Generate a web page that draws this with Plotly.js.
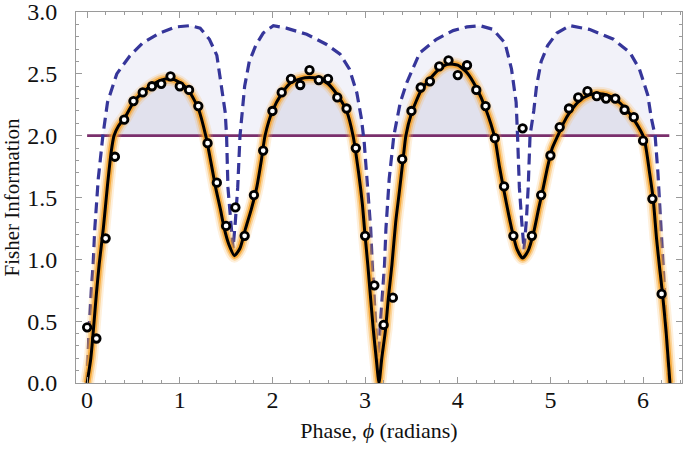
<!DOCTYPE html>
<html>
<head>
<meta charset="utf-8">
<script src="https://cdn.plot.ly/plotly-3.0.1.min.js"></script>
<style>
html,body{margin:0;padding:0;background:#fff;}
#chart{width:685px;height:450px;}
</style>
</head>
<body>
<div id="chart"></div>
<script>
// ---- Data ----
// Fitted Fisher information curve (solid black)
var fitX = [0.00,0.04,0.07,0.10,0.13,0.175,0.22,0.26,0.29,0.34,0.41,0.50,0.60,0.70,0.80,0.90,1.00,1.10,1.20,1.28,1.34,1.39,1.44,1.48,1.53,1.59,
            1.65,1.71,1.77,1.83,1.88,1.92,2.00,2.10,2.20,2.30,2.40,2.50,2.60,2.70,2.80,2.87,2.93,2.97,3.00,3.03,3.06,3.09,3.12,3.15,
            3.18,3.22,3.25,3.29,3.33,3.37,3.41,3.44,3.50,3.60,3.70,3.80,3.90,4.00,4.10,4.20,4.30,4.40,4.45,4.50,4.55,4.59,4.64,4.70,
            4.76,4.82,4.87,4.92,4.97,5.02,5.08,5.14,5.21,5.31,5.42,5.51,5.61,5.71,5.81,5.91,6.01,6.07,6.11,6.145,6.18,6.21,6.25,6.29];
var fitY = [0.00,0.20,0.45,0.72,0.96,1.25,1.60,1.87,2.00,2.08,2.15,2.27,2.35,2.41,2.45,2.46,2.43,2.36,2.22,2.00,1.77,1.57,1.40,1.25,1.12,1.03,
            1.09,1.25,1.40,1.58,1.80,2.00,2.20,2.34,2.43,2.46,2.47,2.46,2.42,2.33,2.20,2.00,1.70,1.45,1.19,0.95,0.68,0.42,0.20,0.00,
            0.20,0.43,0.68,0.96,1.30,1.55,1.81,2.00,2.18,2.36,2.46,2.54,2.58,2.57,2.51,2.39,2.22,1.98,1.75,1.55,1.36,1.22,1.08,1.01,
            1.07,1.22,1.40,1.57,1.75,1.90,2.00,2.10,2.19,2.28,2.33,2.34,2.33,2.29,2.22,2.12,1.98,1.70,1.48,1.17,0.92,0.72,0.40,0.00];

// Theoretical bound (dashed blue)
var boundX = [0.00,0.02,0.045,0.065,0.083,0.12,0.17,0.22,0.32,0.46,0.60,0.78,0.96,1.11,1.22,1.32,1.40,1.45,1.49,1.505,1.52,1.55,1.575,
              1.60,1.625,1.65,1.675,1.70,1.75,1.82,1.90,2.01,2.15,2.37,2.58,2.73,2.83,2.91,2.96,2.99,3.03,3.06,3.077,3.10,3.12,3.14,
              3.16,3.19,3.21,3.225,3.26,3.31,3.38,3.45,3.59,3.77,3.95,4.10,4.24,4.38,4.51,4.58,4.63,4.645,4.665,4.69,4.715,
              4.74,4.76,4.78,4.82,4.85,4.90,4.97,5.07,5.21,5.42,5.68,5.86,5.96,6.05,6.09,6.13,6.16,6.18,6.20,6.22,6.245,6.28];
var boundY = [0.00,0.42,0.75,0.96,1.25,1.65,2.00,2.27,2.50,2.645,2.75,2.83,2.88,2.89,2.87,2.78,2.65,2.40,2.19,2.00,1.58,1.31,1.09,
              1.31,1.58,2.00,2.20,2.40,2.60,2.73,2.83,2.89,2.87,2.82,2.74,2.66,2.54,2.35,2.14,1.95,1.55,1.25,0.96,0.70,0.40,0.00,
              0.42,0.75,0.96,1.25,1.65,2.00,2.27,2.43,2.67,2.78,2.85,2.88,2.89,2.86,2.75,2.54,2.27,2.00,1.58,1.31,1.08,
              1.31,1.58,2.00,2.20,2.40,2.60,2.73,2.83,2.89,2.86,2.78,2.67,2.54,2.33,2.14,2.00,1.70,1.45,1.17,0.90,0.50,0.00];

// Measured points (open circles)
var ptsX = [0.0,0.1,0.2,0.3,0.4,0.5,0.6,0.7,0.8,0.9,1.0,1.1,1.2,1.3,1.4,1.5,1.6,1.7,1.8,1.9,2.0,2.1,2.2,2.3,2.4,2.5,2.6,2.7,2.8,2.9,3.0,
            3.1,3.2,3.3,3.4,3.5,3.6,3.7,3.8,3.9,4.0,4.1,4.2,4.3,4.4,4.5,4.6,4.7,4.8,4.9,5.0,5.1,5.2,5.3,5.4,5.5,5.6,5.7,5.8,5.9,6.0,6.1,6.2];
var ptsY = [0.45,0.36,1.17,1.83,2.13,2.28,2.35,2.40,2.42,2.48,2.40,2.37,2.24,1.94,1.62,1.27,1.42,1.19,1.52,1.88,2.20,2.35,2.46,2.41,2.53,2.45,2.46,2.31,2.22,1.90,1.19,
            0.79,0.47,0.69,1.81,2.20,2.39,2.44,2.56,2.61,2.49,2.57,2.37,2.24,1.98,1.59,1.19,2.06,1.19,1.52,1.84,2.07,2.22,2.31,2.36,2.32,2.30,2.30,2.21,2.15,1.96,1.49,0.72];

// Classical limit line
var limitX = [0, 6.283];
var limitY = [2.0, 2.0];
var limitLevel = 2.0;

// Tick values / labels
var xTicks = [0,1,2,3,4,5,6];
var yTicks = [0,0.5,1.0,1.5,2.0,2.5,3.0];
var yTickText = ['0.0','0.5','1.0','1.5','2.0','2.5','3.0'];

// ---- Helpers ----
function clampAbove(xs, ys, base) {
  var ox = [], oy = [];
  for (var i = 0; i < xs.length; i++) {
    if (i > 0) {
      var a = ys[i-1] - base, b = ys[i] - base;
      if (a * b < 0) {
        var t = a / (a - b);
        ox.push(xs[i-1] + t * (xs[i] - xs[i-1]));
        oy.push(base);
      }
    }
    ox.push(xs[i]);
    oy.push(Math.max(ys[i], base));
  }
  return {x: ox, y: oy};
}

var fillBound = clampAbove(boundX, boundY, limitLevel);
var fillFit = clampAbove(fitX, fitY, limitLevel);

var serif = '"Liberation Serif", "DejaVu Serif", serif';
var frameGray = '#9a9a9a';
var xRange = [-0.12, 6.42];
var yRange = [0, 3.0005];

var traces = [
  {x: fillBound.x, y: fillBound.y, mode: 'lines', fill: 'toself', fillcolor: '#f2f2f9',
   line: {width: 0, color: 'rgba(0,0,0,0)'}, hoverinfo: 'skip'},
  {x: fillFit.x, y: fillFit.y, mode: 'lines', fill: 'toself', fillcolor: '#e1e1ed',
   line: {width: 0, color: 'rgba(0,0,0,0)'}, hoverinfo: 'skip'},
  {x: limitX, y: limitY, mode: 'lines', line: {color: '#7a2f6c', width: 2.8}},
  {x: boundX, y: boundY, mode: 'lines', line: {color: '#36369a', width: 3.2, dash: '11px,6px'}},
  {x: fitX, y: fitY, mode: 'lines', line: {color: 'rgba(250,170,60,0.18)', width: 14, shape: 'spline', smoothing: 0.6}},
  {x: fitX, y: fitY, mode: 'lines', line: {color: 'rgba(248,165,45,0.38)', width: 10, shape: 'spline', smoothing: 0.6}},
  {x: fitX, y: fitY, mode: 'lines', line: {color: 'rgba(245,160,40,0.8)', width: 6.5, shape: 'spline', smoothing: 0.6}},
  {x: fitX, y: fitY, mode: 'lines', line: {color: '#000000', width: 3, shape: 'spline', smoothing: 0.6}},
  {x: ptsX, y: ptsY, mode: 'markers',
   marker: {symbol: 'circle', size: 7.5, color: '#ffffff', line: {color: '#000000', width: 2.8}}}
];

var layout = {
  width: 685, height: 450,
  margin: {l: 76, r: 3, t: 12, b: 67},
  paper_bgcolor: '#ffffff', plot_bgcolor: '#ffffff',
  showlegend: false,
  // main axes: labels + frame line (their outside ticks are invisible spacers)
  xaxis: {
    range: xRange, tickmode: 'array', tickvals: xTicks,
    showgrid: false, zeroline: false, showline: true, linecolor: frameGray, linewidth: 1, mirror: true,
    ticks: '', ticklabelstandoff: -5,
    ticklabeloverflow: 'allow',
    tickfont: {family: serif, size: 24, color: '#111'},
    title: {text: 'Phase, <i>ϕ</i> (radians)', font: {family: serif, size: 22, color: '#111'}, standoff: 10}
  },
  yaxis: {
    range: yRange, tickmode: 'array', tickvals: yTicks, ticktext: yTickText,
    showgrid: false, zeroline: false, showline: true, linecolor: frameGray, linewidth: 1, mirror: true,
    ticks: 'outside', ticklen: 13, tickcolor: 'rgba(0,0,0,0)',
    ticklabeloverflow: 'allow',
    tickfont: {family: serif, size: 24, color: '#111'},
    title: {text: 'Fisher Information', font: {family: serif, size: 21, color: '#111'}, standoff: 3}
  },
  // overlay axes: visible inside major + minor ticks on all four sides
  xaxis2: {
    overlaying: 'x', matches: 'x', range: xRange, tickmode: 'array', tickvals: xTicks,
    showticklabels: false, showgrid: false, zeroline: false, showline: false,
    mirror: 'allticks', ticks: 'inside', ticklen: 6, tickcolor: frameGray, tickwidth: 1,
    minor: {dtick: 0.2, tick0: 0, ticks: 'inside', ticklen: 3, tickcolor: frameGray, tickwidth: 1, showgrid: false}
  },
  yaxis2: {
    overlaying: 'y', matches: 'y', range: yRange, tickmode: 'array', tickvals: yTicks,
    showticklabels: false, showgrid: false, zeroline: false, showline: false,
    mirror: 'allticks', ticks: 'inside', ticklen: 6, tickcolor: frameGray, tickwidth: 1,
    minor: {dtick: 0.1, tick0: 0, ticks: 'inside', ticklen: 3, tickcolor: frameGray, tickwidth: 1, showgrid: false}
  }
};

// an empty trace so the overlay axes are drawn
traces.push({x: [], y: [], xaxis: 'x2', yaxis: 'y2', mode: 'markers', hoverinfo: 'skip'});

Plotly.newPlot('chart', traces, layout, {staticPlot: true, displayModeBar: false});
</script>
</body>
</html>
